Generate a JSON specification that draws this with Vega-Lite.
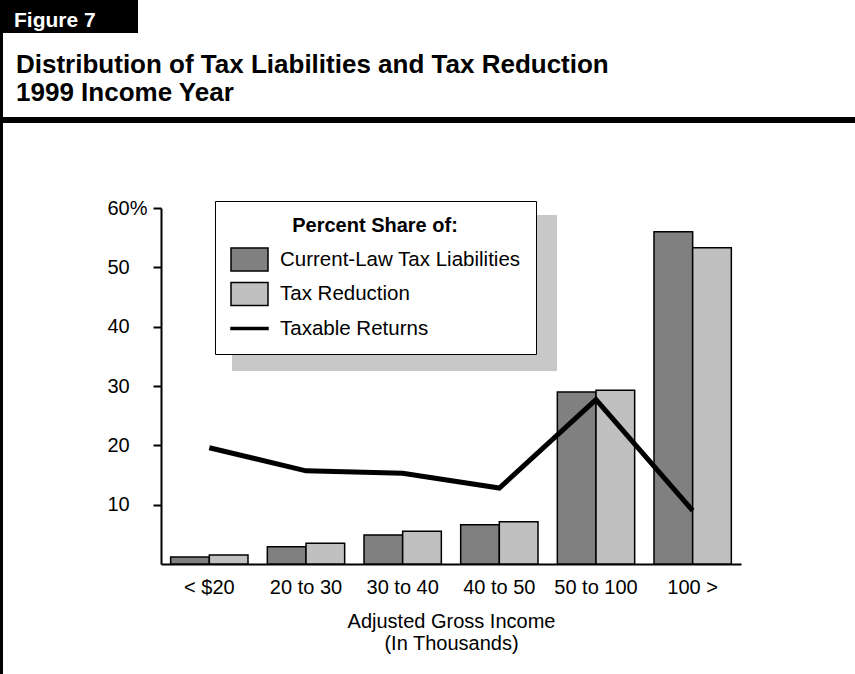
{
  "$schema": "https://vega.github.io/schema/vega-lite/v6.json",
  "padding": 0,
  "background": "white",
  "spacing": 0,
  "config": {
    "font": "Liberation Sans",
    "view": {"stroke": null},
    "concat": {"spacing": 0}
  },
  "datasets": {
    "bars": [
      {"group": "< $20", "series": "Current-Law Tax Liabilities", "value": 1.2},
      {"group": "< $20", "series": "Tax Reduction", "value": 1.5},
      {"group": "20 to 30", "series": "Current-Law Tax Liabilities", "value": 2.9},
      {"group": "20 to 30", "series": "Tax Reduction", "value": 3.5},
      {"group": "30 to 40", "series": "Current-Law Tax Liabilities", "value": 4.9},
      {"group": "30 to 40", "series": "Tax Reduction", "value": 5.5},
      {"group": "40 to 50", "series": "Current-Law Tax Liabilities", "value": 6.6},
      {"group": "40 to 50", "series": "Tax Reduction", "value": 7.1},
      {"group": "50 to 100", "series": "Current-Law Tax Liabilities", "value": 29.0},
      {"group": "50 to 100", "series": "Tax Reduction", "value": 29.3},
      {"group": "100 >", "series": "Current-Law Tax Liabilities", "value": 56.0},
      {"group": "100 >", "series": "Tax Reduction", "value": 53.3}
    ],
    "line": [
      {"group": "< $20", "series": "Taxable Returns", "value": 19.6},
      {"group": "20 to 30", "series": "Taxable Returns", "value": 15.7},
      {"group": "30 to 40", "series": "Taxable Returns", "value": 15.3},
      {"group": "40 to 50", "series": "Taxable Returns", "value": 12.8},
      {"group": "50 to 100", "series": "Taxable Returns", "value": 27.7},
      {"group": "100 >", "series": "Taxable Returns", "value": 9.0}
    ]
  },
  "hconcat": [
    {
      "width": 3,
      "height": 674,
      "view": {"fill": "black", "stroke": null},
      "data": {"values": []},
      "mark": "point"
    },
    {
      "spacing": 0,
      "vconcat": [
        {
          "width": 135,
          "height": 33,
          "view": {"fill": "black", "stroke": null},
          "data": {"values": [{"label": "Figure 7"}]},
          "mark": {"type": "text", "align": "left", "baseline": "alphabetic", "dx": -56.5, "dy": 10.5, "fontSize": 21, "fontWeight": "bold", "color": "white"},
          "encoding": {"text": {"field": "label", "type": "nominal"}}
        },
        {
          "spacing": 75,
          "vconcat": [
            {
              "width": 852,
              "height": 6,
              "view": {"fill": "black", "stroke": null},
              "title": {
                "text": " ",
                "subtitle": ["Distribution of Tax Liabilities and Tax Reduction", "1999 Income Year"],
                "anchor": "start",
                "frame": "group",
                "dx": 13,
                "offset": 11.5,
                "fontSize": 16,
                "subtitleFont": "Liberation Sans",
                "subtitleFontSize": 26,
                "subtitleFontWeight": "bold",
                "subtitleColor": "black",
                "subtitleLineHeight": 28,
                "subtitlePadding": 2.5
              },
              "data": {"values": []},
              "mark": "point"
            },
            {
              "spacing": 103,
              "hconcat": [
                {"width": 1, "height": 1, "data": {"values": []}, "mark": "point"},
                {
                  "width": 580,
                  "height": 356,
                  "layer": [
                    {
                      "data": {"name": "bars"},
                      "mark": {"type": "bar", "stroke": "black", "strokeWidth": 1.5},
                      "encoding": {
                        "x": {
                          "field": "group", "type": "nominal",
                          "sort": ["< $20", "20 to 30", "30 to 40", "40 to 50", "50 to 100", "100 >"],
                          "scale": {"paddingInner": 0.2, "paddingOuter": 0.1},
                          "axis": {
                            "title": ["Adjusted Gross Income", "(In Thousands)"],
                            "labelAngle": 0, "ticks": false,
                            "domainColor": "black", "domainWidth": 2,
                            "labelFontSize": 20, "labelColor": "black", "labelPadding": 13,
                            "titleFontSize": 20, "titleFontWeight": "normal", "titleColor": "black",
                            "titlePadding": 14, "titleLineHeight": 22
                          }
                        },
                        "xOffset": {
                          "field": "series", "type": "nominal",
                          "sort": ["Current-Law Tax Liabilities", "Tax Reduction"]
                        },
                        "y": {
                          "field": "value", "type": "quantitative",
                          "scale": {"domain": [0, 60], "nice": false},
                          "axis": {
                            "title": null,
                            "values": [10, 20, 30, 40, 50, 60],
                            "labelExpr": "datum.value == 60 ? '60%' : datum.label",
                            "grid": false,
                            "domainColor": "black", "domainWidth": 2,
                            "tickColor": "black", "tickWidth": 2, "tickSize": 8,
                            "labelAlign": "left", "labelPadding": 46,
                            "labelFontSize": 20, "labelColor": "black", "labelBaseline": "middle"
                          }
                        },
                        "fill": {
                          "field": "series", "type": "nominal",
                          "scale": {
                            "domain": ["Current-Law Tax Liabilities", "Tax Reduction", "Taxable Returns"],
                            "range": ["#808080", "#c0c0c0", "#000000"]
                          },
                          "legend": {
                            "title": "Percent Share of:", "orient": "none", "legendX": 215, "legendY": 201,
                            "fillColor": "white", "strokeColor": "black", "padding": 15,
                            "titleFontSize": 20, "titleFontWeight": "bold", "titleColor": "black",
                            "titleAnchor": "middle", "titlePadding": 4,
                            "labelFontSize": 20.5, "labelColor": "black", "labelOffset": 11, "labelLimit": 400,
                            "symbolSize": 1369, "symbolStrokeWidth": 1.5, "symbolStrokeColor": "black",
                            "rowPadding": 0.5, "zindex": 2
                          }
                        }
                      }
                    },
                    {
                      "data": {"name": "line"},
                      "mark": {"type": "line", "strokeWidth": 5, "strokeJoin": "miter", "strokeCap": "butt"},
                      "encoding": {
                        "x": {"field": "group", "type": "nominal", "sort": ["< $20", "20 to 30", "30 to 40", "40 to 50", "50 to 100", "100 >"]},
                        "y": {"field": "value", "type": "quantitative"},
                        "stroke": {
                          "field": "series", "type": "nominal",
                          "scale": {
                            "domain": ["Current-Law Tax Liabilities", "Tax Reduction", "Taxable Returns"],
                            "range": ["#000000", "#000000", "#000000"]
                          },
                          "legend": {
                            "title": "Percent Share of:", "orient": "none", "legendX": 215, "legendY": 201,
                            "fillColor": "white", "strokeColor": "black", "padding": 15,
                            "titleFontSize": 20, "titleFontWeight": "bold", "titleColor": "black",
                            "titleAnchor": "middle", "titlePadding": 4,
                            "labelFontSize": 20.5, "labelColor": "black", "labelOffset": 11, "labelLimit": 400,
                            "symbolSize": 1369, "symbolStrokeWidth": 1.5, "symbolStrokeColor": "black",
                            "rowPadding": 0.5, "zindex": 2
                          }
                        }
                      }
                    },
                    {
                      "data": {"values": []},
                      "mark": {"type": "point", "filled": true, "opacity": 1, "color": "#c8c8c8"},
                      "encoding": {
                        "shape": {
                          "field": "series", "type": "nominal",
                          "scale": {
                            "domain": ["Current-Law Tax Liabilities", "Tax Reduction", "Taxable Returns"],
                            "range": ["M-1,-0.62H1V0.62H-1Z", "M-1,-0.62H1V0.62H-1Z", "M-1,-0.05H1V0.05H-1Z"]
                          },
                          "legend": {
                            "title": "Percent Share of:", "orient": "none", "legendX": 215, "legendY": 201,
                            "fillColor": "white", "strokeColor": "black", "padding": 15,
                            "titleFontSize": 20, "titleFontWeight": "bold", "titleColor": "black",
                            "titleAnchor": "middle", "titlePadding": 4,
                            "labelFontSize": 20.5, "labelColor": "black", "labelOffset": 11, "labelLimit": 400,
                            "symbolSize": 1369, "symbolStrokeWidth": 1.5, "symbolStrokeColor": "black",
                            "rowPadding": 0.5, "zindex": 2
                          }
                        },
                        "strokeDash": {
                          "field": "shadow", "type": "nominal",
                          "scale": {"domain": ["k1", "k2", "k3"]},
                          "legend": {
                            "title": null, "orient": "none", "legendX": 232, "legendY": 130.5,
                            "values": ["k1"], "padding": 0,
                            "labelExpr": "''", "labelOffset": 0, "labelFontSize": 1,
                            "symbolSize": 105625, "symbolType": "M-1,-0.48H1V0.48H-1Z",
                            "symbolFillColor": "#c8c8c8", "symbolStrokeColor": "#c8c8c8", "symbolStrokeWidth": 0,
                            "symbolOpacity": 1, "zindex": 1
                          }
                        }
                      }
                    }
                  ]
                }
              ]
            }
          ]
        }
      ]
    }
  ]
}
